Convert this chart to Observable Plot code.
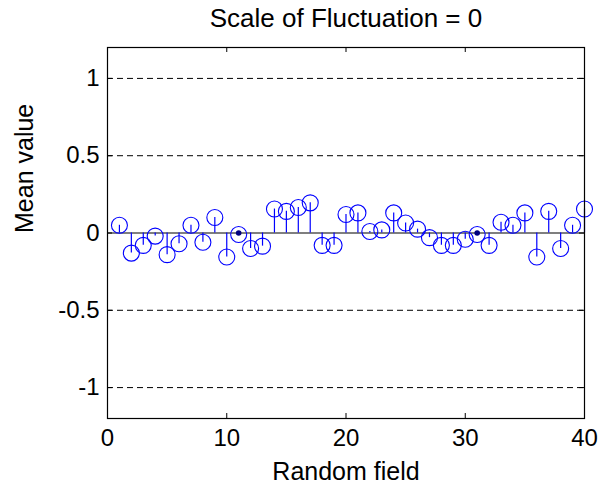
<!DOCTYPE html>
<html><head><meta charset="utf-8">
<script src="https://cdn.jsdelivr.net/npm/d3@7"></script>
<script src="https://cdn.jsdelivr.net/npm/@observablehq/plot@0.6"></script>
<style>body{margin:0;background:#fff}svg{font-family:"Liberation Sans",Arial,sans-serif}</style>
</head><body><div id="chart"></div>
<script>
const fields = d3.range(1, 41);
const meanValues = [0.05,-0.13,-0.08,-0.02,-0.14,-0.07,0.05,-0.06,0.10,-0.155,
  -0.01,-0.10,-0.085,0.155,0.14,0.165,0.195,-0.08,-0.08,0.12,
  0.13,0.01,0.02,0.13,0.065,0.025,-0.03,-0.08,-0.08,-0.04,
  -0.01,-0.08,0.07,0.05,0.13,-0.155,0.14,-0.10,0.05,0.155];
const dotFields = [11, 31];
const xTicks = [0, 10, 20, 30, 40];
const yTicks = [-1, -0.5, 0, 0.5, 1];
const gridValues = [-1, -0.5, 0.5, 1];
const title = "Scale of Fluctuation = 0";
const xLabel = "Random field";
const yLabel = "Mean value";

const data = fields.map((f, i) => ({field: f, value: meanValues[i]}));
const W = 603, H = 488, mt = 47, mb = 70, ml = 107, mr = 19;
const ih = H - mt - mb, iw = W - ml - mr;

const chart = Plot.plot({
  width: W, height: H,
  marginTop: mt, marginBottom: mb, marginLeft: ml, marginRight: mr,
  x: {domain: [0, 40]},
  y: {domain: [-1.2, 1.2]},
  style: {fontFamily: "Liberation Sans, Arial, sans-serif", fontSize: "24px", color: "#000"},
  marks: [
    Plot.ruleY(gridValues, {y: d => d, stroke: "#000", strokeDasharray: "6,4", strokeWidth: 1}),
    Plot.ruleY([0], {stroke: "#000", strokeWidth: 1.2}),
    Plot.ruleX(data, {x: "field", y1: 0, y2: "value", stroke: "#0000ff", strokeWidth: 1.2}),
    Plot.dot(data, {x: "field", y: "value", r: 8, stroke: "#0000ff", strokeWidth: 1.1, fill: "none"}),
    Plot.dot(dotFields, {x: d => d, y: d => 0, r: 2.8, fill: "#000080", stroke: "none"}),
    Plot.ruleX(xTicks, {x: d => d, insetTop: ih - 5, stroke: "#000"}),
    Plot.ruleX(xTicks, {x: d => d, insetBottom: ih - 5, stroke: "#000"}),
    Plot.ruleY(yTicks, {y: d => d, insetRight: iw - 5, stroke: "#000"}),
    Plot.ruleY(yTicks, {y: d => d, insetLeft: iw - 5, stroke: "#000"}),
    Plot.frame({stroke: "#000", strokeWidth: 1.2}),
    Plot.axisX(xTicks, {anchor: "bottom", tickSize: 0, tickPadding: 10, fontSize: 24, label: null}),
    Plot.axisY(yTicks, {anchor: "left", tickSize: 0, tickPadding: 8, fontSize: 24, label: null,
      tickFormat: d => String(d)}),
    Plot.text([xLabel], {text: d => d, frameAnchor: "bottom", dy: 61, fontSize: 25}),
    Plot.text([yLabel], {text: d => d, frameAnchor: "left", dx: -83, rotate: -90, fontSize: 25}),
    Plot.text([title], {text: d => d, frameAnchor: "top", dy: -39, fontSize: 26})
  ]
});
document.getElementById("chart").appendChild(chart);
</script></body></html>
